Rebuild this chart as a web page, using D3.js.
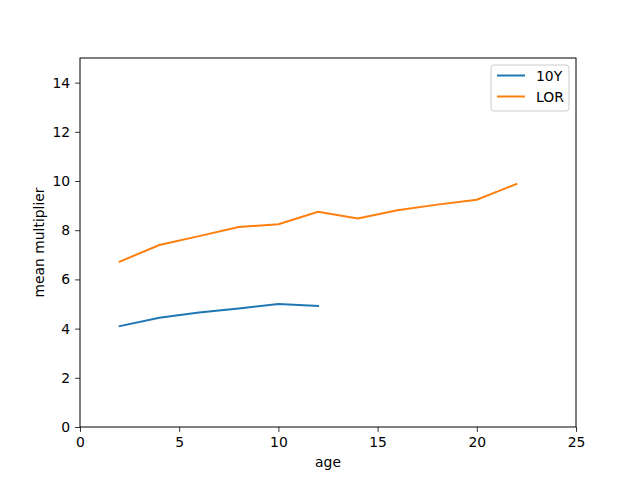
<!DOCTYPE html>
<html>
<head>
<meta charset="utf-8">
<script src="https://d3js.org/d3.v7.min.js"></script>
<style>
  body { margin: 0; background: #fff; }
  text { font-family: "DejaVu Sans", sans-serif; }
</style>
</head>
<body>
<svg width="640" height="480"></svg>
<script>
var ages10Y = [2, 4, 6, 8, 10, 12];
var mean10Y = [4.10, 4.44, 4.65, 4.82, 5.00, 4.92];
var agesLOR = [2, 4, 6, 8, 10, 12, 14, 16, 18, 20, 22];
var meanLOR = [6.72, 7.40, 7.76, 8.13, 8.24, 8.75, 8.48, 8.81, 9.04, 9.24, 9.88];
var xTicks = [0, 5, 10, 15, 20, 25];
var yTicks = [0, 2, 4, 6, 8, 10, 12, 14];
var seriesNames = ["10Y", "LOR"];
var seriesColors = ["#1f77b4", "#ff7f0e"];

var svg = d3.select("svg");
var margin = {left: 80, right: 64, top: 58, bottom: 53};
var width = 640 - margin.left - margin.right,
    height = 480 - margin.top - margin.bottom;
var fs = 13.9;

var x = d3.scaleLinear().domain([0, 25]).range([margin.left, margin.left + width]);
var y = d3.scaleLinear().domain([0, 15]).range([margin.top + height, margin.top]);

var xAxis = svg.append("g")
    .attr("transform", "translate(0," + (margin.top + height) + ")")
    .call(d3.axisBottom(x).tickValues(xTicks).tickSize(4.9).tickPadding(4.9));
var yAxis = svg.append("g")
    .attr("transform", "translate(" + margin.left + ",0)")
    .call(d3.axisLeft(y).tickValues(yTicks).tickSize(4.9).tickPadding(4.9));

[xAxis, yAxis].forEach(function (a) {
    a.select(".domain").remove();
    a.selectAll("text").attr("font-size", fs).attr("fill", "#000")
        .style("font-family", "DejaVu Sans");
    a.selectAll("line").attr("stroke", "#000").attr("stroke-width", 0.8);
});

var series = [
    {name: seriesNames[0], xs: ages10Y, ys: mean10Y, color: seriesColors[0]},
    {name: seriesNames[1], xs: agesLOR, ys: meanLOR, color: seriesColors[1]}
];

var line = d3.line()
    .x(function (d) {return x(d[0]);})
    .y(function (d) {return y(d[1]);});

series.forEach(function (s) {
    svg.append("path")
        .datum(d3.zip(s.xs, s.ys))
        .attr("fill", "none")
        .attr("stroke", s.color)
        .attr("stroke-width", 2)
        .attr("stroke-linecap", "square")
        .attr("d", line);
});

// frame
svg.append("rect")
    .attr("x", margin.left).attr("y", margin.top)
    .attr("width", width).attr("height", height)
    .attr("fill", "none").attr("stroke", "#000").attr("stroke-width", 1);

// axis labels
svg.append("text")
    .attr("x", margin.left + width / 2).attr("y", 467)
    .attr("text-anchor", "middle").attr("font-size", fs)
    .text("age");
svg.append("text")
    .attr("transform", "translate(44," + (margin.top + height / 2) + ") rotate(-90)")
    .attr("text-anchor", "middle").attr("font-size", fs)
    .text("mean multiplier");

// legend
var legend = svg.append("g").attr("transform", "translate(491,65)");
legend.append("rect")
    .attr("width", 78).attr("height", 46).attr("rx", 3)
    .attr("fill", "#fff").attr("fill-opacity", 0.8)
    .attr("stroke", "#ccc").attr("stroke-width", 1);
series.forEach(function (s, i) {
    var g = legend.append("g").attr("transform", "translate(0," + (10.5 + i * 21) + ")");
    g.append("line")
        .attr("x1", 6).attr("x2", 34).attr("y1", 0).attr("y2", 0)
        .attr("stroke", s.color).attr("stroke-width", 2);
    g.append("text")
        .attr("x", 45).attr("y", 5).attr("font-size", fs)
        .text(s.name);
});
</script>
</body>
</html>
